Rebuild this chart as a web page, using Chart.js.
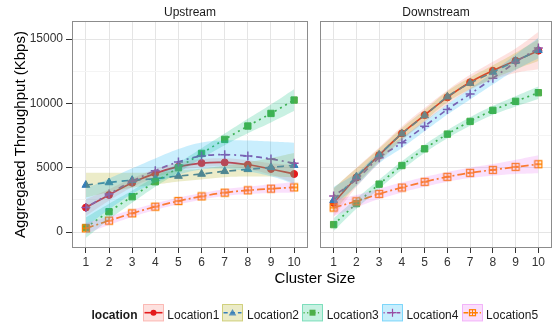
<!DOCTYPE html>
<html>
<head>
<meta charset="utf-8">
<script src="https://cdn.jsdelivr.net/npm/chart.js@4.4.1/dist/chart.umd.min.js"></script>
<style>
  body { margin: 0; background: #fff; font-family: "Liberation Sans", Arial, sans-serif; }
  #wrap { position: relative; width: 558px; height: 322px; overflow: hidden; }
  canvas { position: absolute; top: 0; }
  #upC { left: 0; }
  #downC { left: 314px; }
  .txt { position: absolute; white-space: nowrap; color: #1a1a1a; }
  #xtitle { left: 215px; width: 200px; top: 268.5px; text-align: center; font-size: 15px; line-height: 18px; color: #000; }
  .lg { top: 306.5px; font-size: 12px; line-height: 17px; }
  .key { position: absolute; top: 304.3px; }
</style>
</head>
<body>
<div id="wrap">
  <canvas id="upC" width="314" height="322"></canvas>
  <canvas id="downC" width="244" height="322"></canvas>
  <div class="txt" id="xtitle">Cluster Size</div>
  <div id="legend"></div>
</div>
<script>
// data
var clusterSizes = [1, 2, 3, 4, 5, 6, 7, 8, 9, 10];
var locations = ['Location1', 'Location2', 'Location3', 'Location4', 'Location5'];
var yTicks = [0, 2500, 5000, 7500, 10000, 12500, 15000];

// Upstream: mean, lower and upper band per location
var upMean = [
    [1900, 2880, 3830, 4560, 5080, 5360, 5410, 5230, 4900, 4510],
    [3650, 3850, 4030, 4150, 4350, 4510, 4720, 4870, 5030, 5190],
    [340, 1580, 2745, 3910, 5000, 6110, 7200, 8240, 9220, 10260],
    [1900, 2950, 3950, 4770, 5450, 5910, 6010, 5910, 5680, 5340],
    [285, 880, 1450, 1970, 2410, 2770, 3060, 3240, 3370, 3470]
];
var upLow = [
    [1250, 2430, 3480, 4240, 4760, 5040, 5090, 4880, 4450, 3810],
    [2700, 3100, 3450, 3680, 3930, 4090, 4260, 4310, 4310, 4240],
    [-460, 960, 2265, 3510, 4620, 5710, 6750, 7680, 8520, 9410],
    [400, 1750, 2950, 3820, 4450, 4860, 4910, 4710, 4330, 3740],
    [-135, 550, 1170, 1710, 2150, 2510, 2790, 2950, 3030, 3050]
];
var upHigh = [
    [2550, 3330, 4180, 4880, 5400, 5680, 5730, 5580, 5350, 5210],
    [4600, 4600, 4610, 4620, 4770, 4930, 5180, 5430, 5750, 6140],
    [1140, 2200, 3225, 4310, 5380, 6510, 7650, 8800, 9920, 11110],
    [3400, 4150, 4950, 5720, 6450, 6960, 7110, 7110, 7030, 6940],
    [705, 1210, 1730, 2230, 2670, 3030, 3330, 3530, 3710, 3890]
];

// Downstream
var downMean = [
    [2260, 4240, 5975, 7660, 9090, 10470, 11640, 12540, 13320, 14100],
    [2470, 4300, 6000, 7640, 9060, 10520, 11570, 12440, 13290, 14140],
    [575, 2210, 3720, 5170, 6470, 7610, 8600, 9460, 10160, 10830],
    [2800, 4080, 5770, 6940, 8230, 9530, 10730, 11950, 13200, 14310],
    [1900, 2390, 2960, 3460, 3900, 4290, 4600, 4830, 5060, 5270]
];
var downLow = [
    [1160, 3490, 5375, 7110, 8540, 9920, 11060, 11840, 12370, 12650],
    [1520, 3650, 5500, 7190, 8630, 10090, 11120, 11920, 12640, 13290],
    [75, 1810, 3370, 4840, 6150, 7290, 8270, 9110, 9760, 10350],
    [2100, 3580, 5350, 6540, 7830, 9130, 10310, 11470, 12600, 13510],
    [1250, 1910, 2560, 3080, 3520, 3910, 4200, 4380, 4510, 4570]
];
var downHigh = [
    [3360, 4990, 6575, 8210, 9640, 11020, 12220, 13240, 14270, 15550],
    [3420, 4950, 6500, 8090, 9490, 10950, 12020, 12960, 13940, 14990],
    [1075, 2610, 4070, 5500, 6790, 7930, 8930, 9810, 10560, 11310],
    [3500, 4580, 6190, 7340, 8630, 9930, 11150, 12430, 13800, 15110],
    [2550, 2870, 3360, 3840, 4280, 4670, 5000, 5280, 5610, 5970]
];

// styles
var lineColors = ['#E41A1C', '#377EB8', '#4DAF4A', '#984EA3', '#FF7F00'];
var bandRGB = ['248,118,109', '163,165,0', '0,191,125', '0,176,246', '231,107,243'];
var dashes = [[], [7, 5], [2, 4], [2, 4, 6, 4], [8, 3, 2, 3]];
var FONT = '"Liberation Sans", Arial, sans-serif';

function squareCross(color) {
    var c = document.createElement('canvas');
    c.width = 10; c.height = 10;
    var g = c.getContext('2d');
    g.strokeStyle = color;
    g.lineWidth = 1.3;
    g.strokeRect(1.5, 1.5, 7, 7);
    g.beginPath();
    g.moveTo(5, 1.5); g.lineTo(5, 8.5);
    g.moveTo(1.5, 5); g.lineTo(8.5, 5);
    g.stroke();
    return c;
}
var pointStyles = ['circle', 'triangle', 'rect', 'cross', squareCross('#FF7F00')];
var pointSizes = [3.5, 4.5, 4.5, 4.5, 5];

function pts(arr) {
    return clusterSizes.map(function (x, j) { return { x: x, y: arr[j] }; });
}

function panelDatasets(mean, low, high) {
    var sets = [];
    locations.forEach(function (name, i) {
        sets.push({
            label: name + ' upper', data: pts(high[i]), borderColor: 'transparent', borderWidth: 0,
            pointRadius: 0, fill: false, tension: 0.4, order: 5 - i
        });
        sets.push({
            label: name + ' lower', data: pts(low[i]), borderColor: 'transparent', borderWidth: 0,
            pointRadius: 0, fill: '-1', backgroundColor: 'rgba(' + bandRGB[i] + ',0.21)', tension: 0.4, order: 5 - i
        });
        sets.push({
            label: name, data: pts(mean[i]), borderColor: lineColors[i], borderWidth: 1.7, borderDash: dashes[i],
            pointStyle: pointStyles[i], pointRadius: pointSizes[i], pointBackgroundColor: lineColors[i],
            pointBorderColor: lineColors[i], pointBorderWidth: i === 3 ? 1.5 : 1, fill: false, tension: 0.4,
            order: 15 - i
        });
    });
    return sets;
}

const panelBorder = {
    id: 'panelBorder',
    afterDraw: function (chart) {
        var a = chart.chartArea, ctx = chart.ctx;
        ctx.save();
        ctx.strokeStyle = '#8c8c8c';
        ctx.lineWidth = 1;
        ctx.strokeRect(a.left + 0.5, a.top + 0.5, a.right - a.left - 1, a.bottom - a.top - 1);
        ctx.restore();
    }
};

function makePanel(id, title, mean, low, high, showY) {
    return new Chart(document.getElementById(id), {
        type: 'line',
        data: { datasets: panelDatasets(mean, low, high) },
        plugins: [panelBorder],
        options: {
            responsive: false,
            animation: false,
            layout: { padding: { left: 0, right: showY ? 1.6 : 1.2, top: 0, bottom: 0 } },
            plugins: {
                legend: { display: false },
                tooltip: { enabled: false },
                title: {
                    display: true, text: title, fullSize: false, color: '#1a1a1a',
                    font: { family: FONT, size: 12, weight: 'normal' },
                    padding: { top: 5, bottom: 1.6 }
                }
            },
            scales: {
                x: {
                    type: 'linear', min: 0.4, max: 10.6,
                    afterBuildTicks: function (axis) { axis.ticks = clusterSizes.map(function (v) { return { value: v }; }); },
                    afterFit: function (s) { s.height = 74; },
                    grid: { color: '#e5e5e5', tickColor: '#333', tickLength: 5, lineWidth: 1 },
                    border: { display: false },
                    ticks: { color: '#333', font: { family: FONT, size: 12 }, padding: 2, maxRotation: 0, autoSkip: false }
                },
                y: {
                    min: -1244, max: 16407,
                    afterBuildTicks: function (axis) { axis.ticks = yTicks.map(function (v) { return { value: v }; }); },
                    afterFit: function (s) { s.width = showY ? 72 : 3; },
                    grid: {
                        color: function (c) { return c.tick && c.tick.value % 5000 === 0 ? '#e5e5e5' : '#f4f4f4'; },
                        tickColor: function (c) { return c.tick && c.tick.value % 5000 === 0 ? '#333' : 'transparent'; },
                        tickLength: 6, drawTicks: showY
                    },
                    border: { display: false },
                    ticks: {
                        display: showY, color: '#333', font: { family: FONT, size: 12 }, padding: 3,
                        callback: function (v) { return v % 5000 === 0 ? String(v) : ''; }
                    },
                    title: {
                        display: showY, text: 'Aggregated Throughput (Kbps)', color: '#000',
                        font: { family: FONT, size: 15 }, padding: { top: 12, bottom: 0 }
                    }
                }
            }
        }
    });
}

var upChart = makePanel('upC', 'Upstream', upMean, upLow, upHigh, true);
var downChart = makePanel('downC', 'Downstream', downMean, downLow, downHigh, false);

// legend, drawn as html + svg
function keySvg(i) {
    var rgb = bandRGB[i];
    var s = '<svg width="21" height="18" xmlns="http://www.w3.org/2000/svg">';
    s += '<rect x="0.5" y="0.5" width="20" height="16.5" fill="rgba(' + rgb + ',0.22)" stroke="rgba(' + rgb + ',0.45)"/>';
    s += '<line x1="1.5" y1="8.7" x2="19.5" y2="8.7" stroke="' + lineColors[i] + '" stroke-width="1.6"' +
        (dashes[i].length ? ' stroke-dasharray="' + dashes[i].map(function (d) { return d * 0.6; }).join(',') + '"' : '') + '/>';
    var c = lineColors[i];
    if (i === 0) s += '<circle cx="10.5" cy="8.7" r="3" fill="' + c + '"/>';
    if (i === 1) s += '<polygon points="10.5,5 14.3,11.5 6.7,11.5" fill="' + c + '" opacity="0.8"/>';
    if (i === 2) s += '<rect x="7.5" y="5.7" width="6" height="6" fill="' + c + '"/>';
    if (i === 3) s += '<path d="M10.5 4.7 V12.7 M6.5 8.7 H14.5" stroke="' + c + '" stroke-width="1.2"/>';
    if (i === 4) s += '<rect x="7.5" y="5.7" width="6" height="6" fill="none" stroke="' + c + '" stroke-width="1.2"/>' +
        '<path d="M10.5 5.7 V11.7 M7.5 8.7 H13.5" stroke="' + c + '" stroke-width="1"/>';
    return s + '</svg>';
}

var legendBoxX = [142.7, 222.4, 302.1, 381.8, 461.5];
var html = '<div class="txt lg" style="left:91.5px;font-weight:bold;">location</div>';
locations.forEach(function (name, i) {
    html += '<div class="key" style="left:' + legendBoxX[i] + 'px">' + keySvg(i) + '</div>';
    html += '<div class="txt lg" style="left:' + (legendBoxX[i] + 24.6) + 'px">' + name + '</div>';
});
document.getElementById('legend').innerHTML = html;
</script>
</body>
</html>
